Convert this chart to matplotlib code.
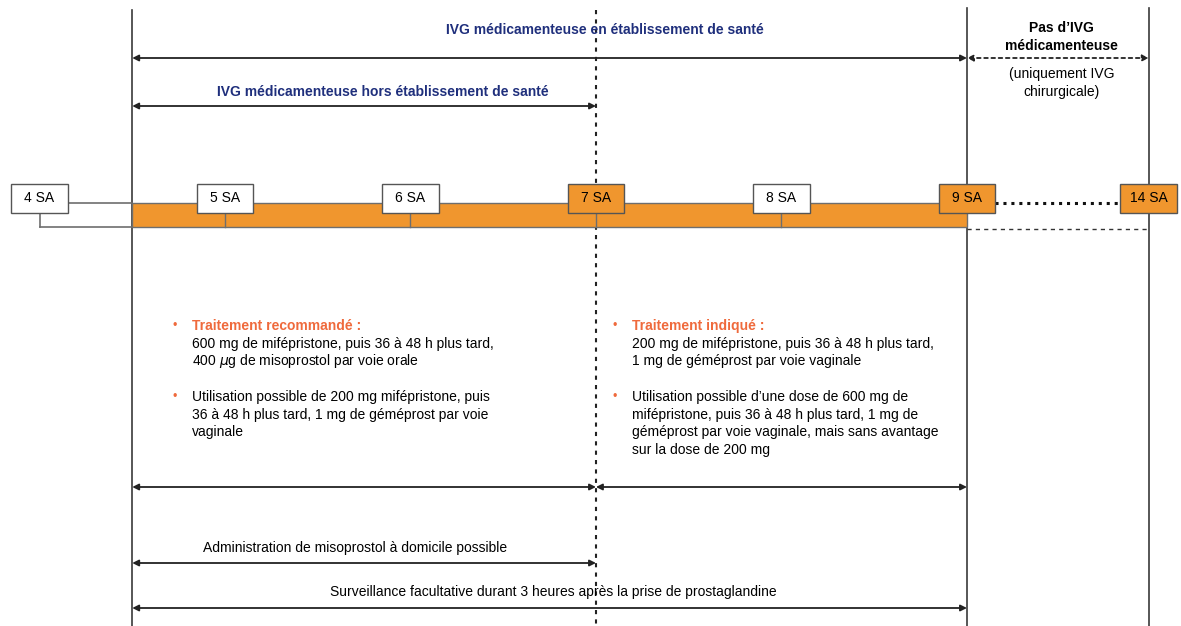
import matplotlib
matplotlib.use("Agg")
import matplotlib.pyplot as plt
from matplotlib.patches import Rectangle

plt.rcParams["font.family"] = ["Liberation Sans", "DejaVu Sans"]

# --- data -------------------------------------------------------------
weeks = [4, 5, 6, 7, 8, 9, 14]
week_labels = ["4 SA", "5 SA", "6 SA", "7 SA", "8 SA", "9 SA", "14 SA"]
highlight_weeks = [7, 9, 14]          # orange boxes
band_start, band_end = 4.5, 9          # orange band (IVG médicamenteuse)
home_limit = 7                         # limite hors établissement
surgical_limit = 14

title_hospital = "IVG médicamenteuse en établissement de santé"
title_home = "IVG médicamenteuse hors établissement de santé"
no_med_title = "Pas d\u2019IVG\nmédicamenteuse"
no_med_note = "(uniquement IVG\nchirurgicale)"

left_head = "Traitement recommandé :"
left_lines1 = ["600 mg de mifépristone, puis 36 à 48 h plus tard,",
               "400 $\\mu$g de misoprostol par voie orale"]
left_lines2 = ["Utilisation possible de 200 mg mifépristone, puis",
               "36 à 48 h plus tard, 1 mg de géméprost par voie",
               "vaginale"]
right_head = "Traitement indiqué :"
right_lines1 = ["200 mg de mifépristone, puis 36 à 48 h plus tard,",
                "1 mg de géméprost par voie vaginale"]
right_lines2 = ["Utilisation possible d\u2019une dose de 600 mg de",
                "mifépristone, puis 36 à 48 h plus tard, 1 mg de",
                "géméprost par voie vaginale, mais sans avantage",
                "sur la dose de 200 mg"]
home_note = "Administration de misoprostol à domicile possible"
watch_note = "Surveillance facultative durant 3 heures après la prise de prostaglandine"

# broken time axis: 14 SA drawn right after 9 SA
def pos(w):
    return 9.98 if w == 14 else w

ORANGE = "#F0962E"
NAVY = "#1F2F7C"
RED = "#EF6A3C"
LINE = "#3a3a3a"
GREY = "#6e6e6e"

fig = plt.figure(figsize=(11.81, 6.26), dpi=100)
ax = fig.add_axes([0, 0, 1, 1])
ax.set_xlim(3.787, 10.154)
ax.set_ylim(626, 0)
ax.axis("off")

box_w = 0.305
box_top, box_bot = 184, 213
band_top, band_bot = 203, 227

# vertical boundaries
for w, y0 in [(band_start, 10), (band_end, 8), (surgical_limit, 8)]:
    ax.plot([pos(w), pos(w)], [y0, 626], color=LINE, lw=1.2, zorder=1)
ax.plot([home_limit, home_limit], [10, 626], color="#222", lw=1.5,
        ls=(0, (2, 2.5)), zorder=1)

def span(x0, x1, y, ls="-"):
    ax.annotate("", xy=(x0, y), xytext=(x1, y),
                arrowprops=dict(arrowstyle="<|-|>", color="#222", lw=1.3,
                                linestyle=ls, mutation_scale=9,
                                shrinkA=0, shrinkB=0), zorder=3)

mid_right = (band_end + pos(surgical_limit)) / 2 + 0.02

# top spans
ax.text((band_start + band_end) / 2 + 0.3, 30, title_hospital, color=NAVY,
        fontsize=10, fontweight="bold", ha="center", va="center")
span(band_start, band_end, 58)
span(band_end, pos(surgical_limit), 58, ls=(0, (2, 2)))
ax.text(mid_right, 37, no_med_title, fontsize=10,
        fontweight="bold", ha="center", va="center", linespacing=1.3)
ax.text(mid_right, 83, no_med_note, fontsize=10,
        ha="center", va="center", linespacing=1.3)
ax.text((band_start + home_limit) / 2 + 0.1, 92, title_home, color=NAVY,
        fontsize=10, fontweight="bold", ha="center", va="center")
span(band_start, home_limit, 106)

# timeline band
ax.add_patch(Rectangle((band_start, band_top), band_end - band_start,
                       band_bot - band_top, facecolor=ORANGE,
                       edgecolor=GREY, lw=1, zorder=2))
ax.plot([pos(4) + box_w / 2, band_start], [band_top, band_top], color=GREY, lw=1.2, zorder=2)
ax.plot([pos(4), band_start], [band_bot, band_bot], color=GREY, lw=1.2, zorder=2)
ax.plot([pos(4), pos(4)], [box_bot, band_bot], color=GREY, lw=1.2, zorder=2)
ax.plot([pos(9) + box_w / 2, pos(14) - box_w / 2], [band_top, band_top],
        color="#111", lw=2.2, ls=(0, (1, 1.6)), zorder=2)
ax.plot([band_end, pos(surgical_limit)], [229, 229], color="#333", lw=1,
        ls=(0, (3, 3)), zorder=2)

for w, lab in zip(weeks, week_labels):
    x = pos(w)
    if 4 < w < 9:
        ax.plot([x, x], [box_bot, band_bot], color=GREY, lw=1, zorder=3)
    fc = ORANGE if w in highlight_weeks else "white"
    ax.add_patch(Rectangle((x - box_w / 2, box_top), box_w, box_bot - box_top,
                           facecolor=fc, edgecolor="#555", lw=1, zorder=4))
    ax.text(x, (box_top + box_bot) / 2, lab, fontsize=10, ha="center",
            va="center", zorder=5)

# treatment text blocks
def block(xb, head, lines1, lines2):
    dy = 17.7
    xt = xb + 0.105
    ax.text(xb, 326, "\u2022", color=RED, fontsize=9, ha="left", va="center")
    ax.text(xt, 326, head, color=RED, fontsize=10, fontweight="bold",
            ha="left", va="center")
    for i, s in enumerate(lines1):
        ax.text(xt, 326 + dy * (i + 1), s, fontsize=10, ha="left", va="center")
    ax.text(xb, 397, "\u2022", color=RED, fontsize=9, ha="left", va="center")
    for i, s in enumerate(lines2):
        ax.text(xt, 397 + dy * i, s, fontsize=10, ha="left", va="center")

block(4.715, left_head, left_lines1, left_lines2)
block(7.091, right_head, right_lines1, right_lines2)

# bottom spans
span(band_start, home_limit, 487)
span(home_limit, band_end, 487)
ax.text((band_start + home_limit) / 2 - 0.05, 548, home_note, fontsize=10,
        ha="center", va="center")
span(band_start, home_limit, 563)
ax.text((band_start + band_end) / 2 + 0.02, 592, watch_note, fontsize=10,
        ha="center", va="center")
span(band_start, band_end, 608)

fig.savefig("out.png", dpi=100)
